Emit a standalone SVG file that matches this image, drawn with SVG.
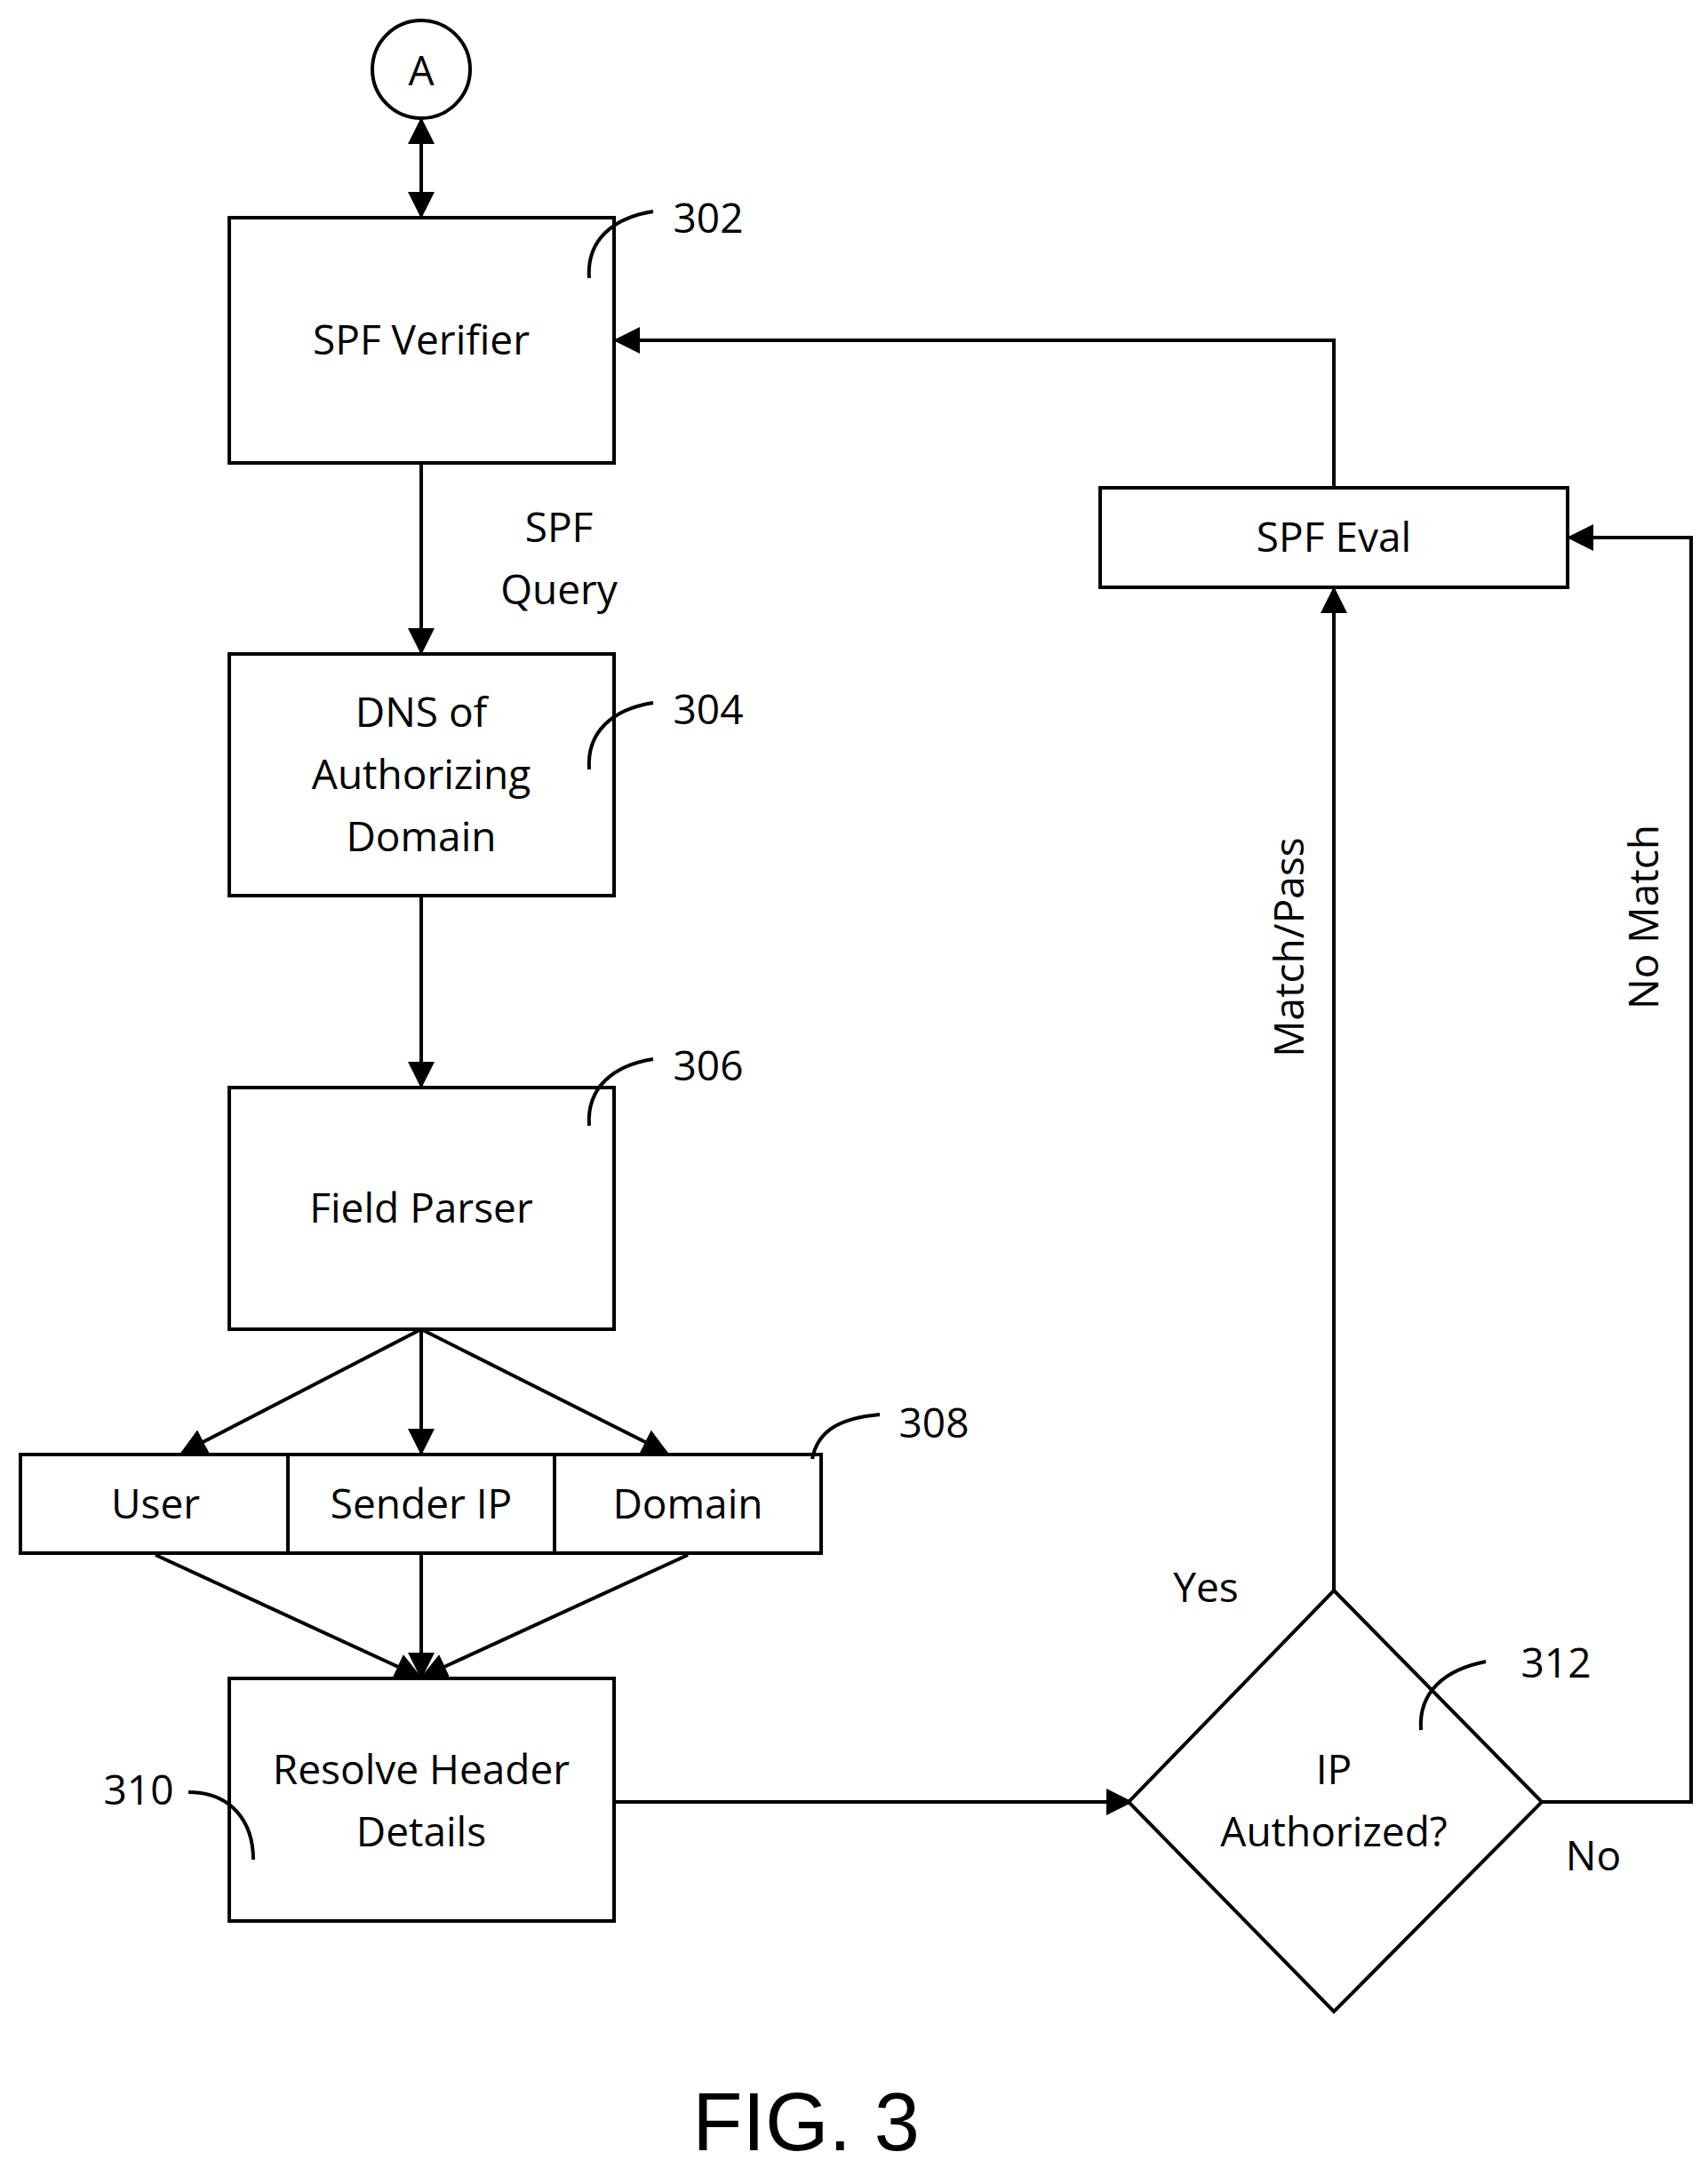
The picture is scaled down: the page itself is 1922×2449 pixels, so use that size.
<svg xmlns="http://www.w3.org/2000/svg" width="1922" height="2449" viewBox="0 0 1922 2449">
<style>
.b{fill:#fff;stroke:#000;stroke-width:4}
.t{font-family:"Open Sans","Liberation Sans",sans-serif;font-size:46px;text-anchor:middle;fill:#000}
.c{fill:none;stroke:#000;stroke-width:4}
.l{fill:none;stroke:#000;stroke-width:4}
</style>
<defs><marker id="a" markerWidth="10" markerHeight="10" refX="9" refY="5" orient="auto" markerUnits="userSpaceOnUse" viewBox="0 0 10 10"><path d="M0,0L10,5L0,10z"/></marker>
<marker id="m" viewBox="0 0 10 10" refX="9" refY="5" markerWidth="30" markerHeight="30" orient="auto-start-reverse" markerUnits="userSpaceOnUse"><path d="M0,0L10,5L0,10z"/></marker></defs>
<rect width="1922" height="2449" fill="#fff"/>
<g id="connectors">
<line class="l" x1="474" y1="135" x2="474" y2="243" marker-start="url(#m)" marker-end="url(#m)"/>
<line class="l" x1="474" y1="521" x2="474" y2="734" marker-end="url(#m)"/>
<line class="l" x1="474" y1="1008" x2="474" y2="1222" marker-end="url(#m)"/>
<line class="l" x1="474" y1="1496" x2="205" y2="1635" marker-end="url(#m)"/>
<line class="l" x1="474" y1="1496" x2="474" y2="1635" marker-end="url(#m)"/>
<line class="l" x1="474" y1="1496" x2="750" y2="1635" marker-end="url(#m)"/>
<line class="l" x1="175" y1="1750" x2="472" y2="1887" marker-end="url(#m)"/>
<line class="l" x1="474" y1="1750" x2="474" y2="1887" marker-end="url(#m)"/>
<line class="l" x1="774" y1="1750" x2="476" y2="1887" marker-end="url(#m)"/>
<line class="l" x1="691" y1="2028" x2="1272" y2="2028" marker-end="url(#m)"/>
<line class="l" x1="1501" y1="1790" x2="1501" y2="663" marker-end="url(#m)"/>
<polyline class="l" points="1501,549 1501,383 693,383" marker-end="url(#m)"/>
<polyline class="l" points="1735,2028 1903,2028 1903,605 1766,605" marker-end="url(#m)"/>
<text class="t" x="629" y="610">SPF</text>
<text class="t" x="629" y="680">Query</text>
<text class="t" x="1357" y="1803">Yes</text>
<text class="t" x="1793" y="2105">No</text>
<text class="t" transform="translate(1467,1066) rotate(-90)">Match/Pass</text>
<text class="t" transform="translate(1866,1032) rotate(-90)">No Match</text>
</g>
<g id="A"><circle class="b" cx="474" cy="78" r="55"/><text class="t" x="474" y="96" font-size="52">A</text></g>
<g id="n302"><rect class="b" x="258" y="245" width="433" height="276"/><text class="t" x="474" y="399">SPF Verifier</text>
<path class="c" d="M663,313 C660,270 690,245 735,238"/><text class="t" x="797" y="262" font-size="40">302</text></g>
<g id="n304"><rect class="b" x="258" y="736" width="433" height="272"/><text class="t" x="474" y="818">DNS of</text><text class="t" x="474" y="888">Authorizing</text><text class="t" x="474" y="958">Domain</text>
<path class="c" d="M663,866 C660,823 690,798 735,791"/><text class="t" x="797" y="815" font-size="40">304</text></g>
<g id="n306"><rect class="b" x="258" y="1224" width="433" height="272"/><text class="t" x="474" y="1376">Field Parser</text>
<path class="c" d="M663,1267 C660,1224 690,1199 735,1192"/><text class="t" x="797" y="1216" font-size="40">306</text></g>
<g id="n308"><rect class="b" x="23" y="1637" width="901" height="111"/><line class="l" x1="324" y1="1637" x2="324" y2="1748"/><line class="l" x1="624" y1="1637" x2="624" y2="1748"/>
<text class="t" x="175" y="1709">User</text><text class="t" x="474" y="1709">Sender IP</text><text class="t" x="774" y="1709">Domain</text>
<path class="c" d="M914,1642 C920,1610 945,1596 990,1592"/><text class="t" x="1051" y="1618" font-size="40">308</text></g>
<g id="n310"><rect class="b" x="258" y="1889" width="433" height="273"/><text class="t" x="474" y="2008">Resolve Header</text><text class="t" x="474" y="2078">Details</text>
<path class="c" d="M212,2017 C260,2017 285,2050 285,2093"/><text class="t" x="156" y="2031" font-size="40">310</text></g>
<g id="n312"><polygon class="b" points="1501,1790 1735,2028 1501,2264 1270,2028"/><text class="t" x="1501" y="2008">IP</text><text class="t" x="1501" y="2078">Authorized?</text>
<path class="c" d="M1599,1947 C1596,1904 1626,1879 1672,1870"/><text class="t" x="1751" y="1888" font-size="40">312</text></g>
<g id="eval"><rect class="b" x="1238" y="549" width="526" height="112"/><text class="t" x="1501" y="621">SPF Eval</text></g>
<text x="907" y="2420" font-family="Liberation Sans,sans-serif" font-size="92" text-anchor="middle">FIG. 3</text>
</svg>
